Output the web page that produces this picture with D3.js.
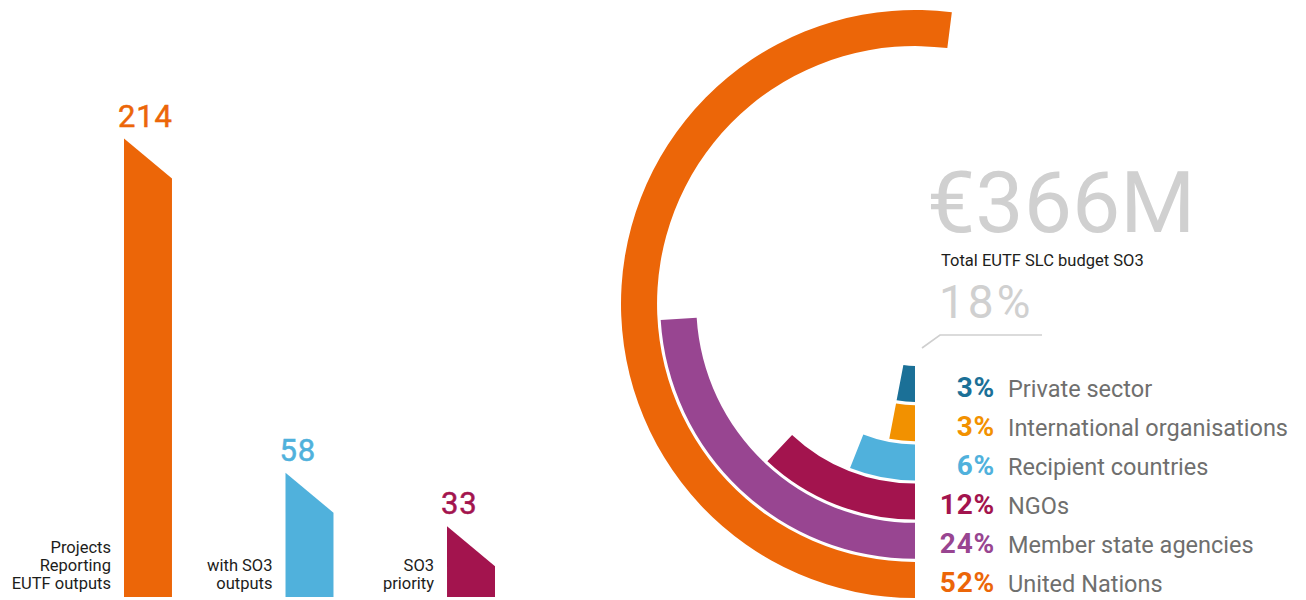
<!DOCTYPE html>
<html>
<head>
<meta charset="utf-8">
<script src="https://cdn.jsdelivr.net/npm/d3@7"></script>
<style>
  html, body { margin: 0; padding: 0; background: #fff; }
  svg { display: block; font-family: Roboto, "Noto Sans", sans-serif; }
</style>
</head>
<body>
<svg id="chart" width="1306" height="600"></svg>
<script>
// ---- Data ----
const barCategories = [["Projects", "Reporting", "EUTF outputs"], ["with SO3", "outputs"], ["SO3", "priority"]];
const barValues = [214, 58, 33];
const barColors = ["#EC6608", "#50B1DC", "#A3144E"];

const ringLabels = ["Private sector", "International organisations", "Recipient countries", "NGOs", "Member state agencies", "United Nations"];
const ringValues = [3, 3, 6, 12, 24, 52];
const ringColors = ["#1B7097", "#F29100", "#50B1DC", "#A3144E", "#984591", "#EC6608"];

const totalBudgetLabel = "€366M";
const totalBudgetCaption = "Total EUTF SLC budget SO3";
const budgetShareLabel = "18%";

// ---- Layout ----
const svg = d3.select("#chart");

// Left: slanted bars
const baseY = 597;
const slant = 40;
const x = d3.scaleBand().domain(d3.range(barValues.length)).range([124, 495]).paddingInner(0.703).paddingOuter(0);
const y = d3.scaleLinear().domain([0, 214]).range([baseY, 138.5]);

const bars = svg.append("g").attr("class", "bars");
barValues.forEach((v, i) => {
  const x0 = x(i), x1 = x(i) + x.bandwidth();
  const yTop = y(v);
  const pts = [[x0, baseY], [x0, yTop], [x1, yTop + slant], [x1, baseY]];
  bars.append("path")
    .attr("d", d3.line()(pts) + "Z")
    .attr("fill", barColors[i]);
  bars.append("text")
    .attr("x", x0 - 6)
    .attr("y", yTop - 12)
    .attr("fill", barColors[i])
    .attr("font-size", 31)
    .attr("letter-spacing", 0.8)
    .attr("stroke", barColors[i])
    .attr("stroke-width", 0.5)
    .text(v);
  const lines = barCategories[i];
  const lineH = 18;
  lines.forEach((ln, j) => {
    bars.append("text")
      .attr("x", x0 - 13)
      .attr("y", 589 - (lines.length - 1 - j) * lineH)
      .attr("text-anchor", "end")
      .attr("fill", "#1d1d1b")
      .attr("font-size", 16.5)
      .text(ln);
  });
});

// Right: radial bars
const cx = 915, cy = 304;
const r = d3.scaleBand().domain(ringLabels).range([62, 294]).paddingInner(0.08).paddingOuter(0);
const ang = d3.scaleLinear().domain([0, 100]).range([0, 2 * Math.PI]);
const arc = d3.arc();

const radial = svg.append("g").attr("transform", `translate(${cx},${cy})`);
ringLabels.forEach((lab, i) => {
  radial.append("path")
    .attr("d", arc({
      innerRadius: r(lab),
      outerRadius: r(lab) + r.bandwidth(),
      startAngle: Math.PI,
      endAngle: Math.PI + ang(ringValues[i])
    }))
    .attr("fill", ringColors[i]);
});

// Legend beside the rings
const legend = svg.append("g");
ringLabels.forEach((lab, i) => {
  const yy = cy + r(lab) + r.bandwidth() / 2 + 12.5;
  legend.append("text")
    .attr("x", 995)
    .attr("y", yy)
    .attr("text-anchor", "end")
    .attr("font-size", 28)
    .attr("font-weight", 700)
    .attr("letter-spacing", 0.8)
    .attr("fill", ringColors[i])
    .text(ringValues[i] + "%");
  legend.append("text")
    .attr("x", 1008)
    .attr("y", yy)
    .attr("font-size", 23.5)
    .attr("fill", "#6f6f6e")
    .text(lab);
});

// Total budget annotation
svg.append("text")
  .attr("x", 927)
  .attr("y", 232)
  .attr("font-size", 86)
  .attr("fill", "#d0d0d0")
  .text(totalBudgetLabel);
svg.append("text")
  .attr("x", 941)
  .attr("y", 266)
  .attr("font-size", 16.5)
  .attr("fill", "#1d1d1b")
  .text(totalBudgetCaption);
svg.append("text")
  .attr("x", 939)
  .attr("y", 318)
  .attr("font-size", 46)
  .attr("letter-spacing", 3)
  .attr("fill", "#d0d0d0")
  .text(budgetShareLabel);
svg.append("path")
  .attr("d", d3.line()([[cx + 7, cy + 44], [cx + 25, cy + 31], [cx + 127, cy + 31]]))
  .attr("fill", "none")
  .attr("stroke", "#cfcfcf")
  .attr("stroke-width", 1.6);
</script>
</body>
</html>
